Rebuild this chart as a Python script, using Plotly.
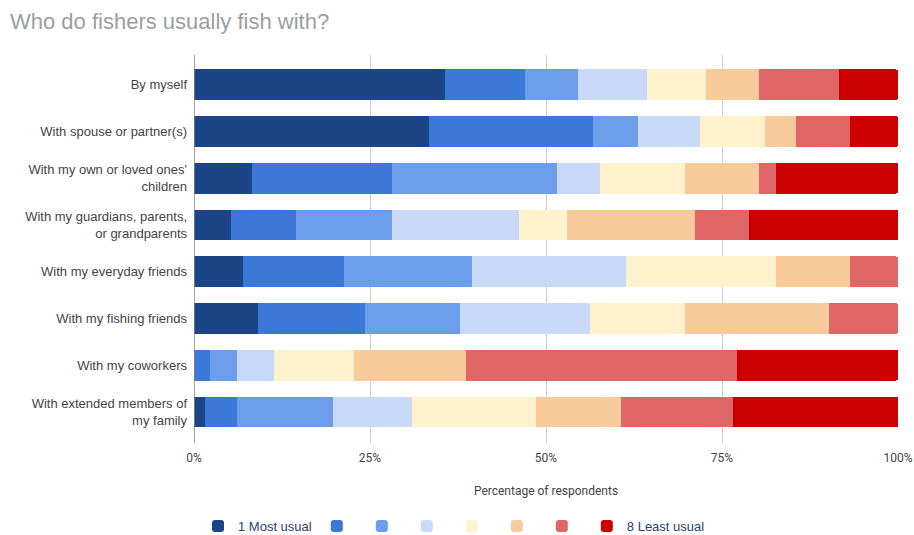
import plotly.graph_objects as go

categories = [
    "By myself",
    "With spouse or partner(s)",
    "With my own or loved ones'<br>children",
    "With my guardians, parents,<br>or grandparents",
    "With my everyday friends",
    "With my fishing friends",
    "With my coworkers",
    "With extended members of<br>my family",
]

series_names = ["1 Most usual", "", "", "", "", "", "", "8 Least usual"]

s1 = [35.7, 33.4, 8.3, 5.3, 6.9, 9.1, 0.0, 1.5]
s2 = [11.3, 23.3, 19.8, 9.2, 14.4, 15.2, 2.3, 4.6]
s3 = [7.6, 6.3, 23.4, 13.6, 18.2, 13.5, 3.8, 13.7]
s4 = [9.8, 8.9, 6.1, 18.1, 21.9, 18.4, 5.3, 11.2]
s5 = [8.3, 9.2, 12.2, 6.8, 21.2, 13.6, 11.3, 17.6]
s6 = [7.6, 4.4, 10.5, 18.2, 10.6, 20.4, 16.0, 12.0]
s7 = [11.3, 7.7, 2.3, 7.6, 6.8, 9.8, 38.5, 16.0]
s8 = [8.4, 6.8, 17.4, 21.2, 0.0, 0.0, 22.8, 23.4]
series_values = [s1, s2, s3, s4, s5, s6, s7, s8]

colors = ["#1c4587", "#3c78d8", "#6d9eeb", "#c9daf8",
          "#fff2cc", "#f9cb9c", "#e06666", "#cc0000"]

tick_vals = [0, 25, 50, 75, 100]
tick_text = ["0%", "25%", "50%", "75%", "100%"]

FONT = "Arial, 'Liberation Sans', sans-serif"

fig = go.Figure()
for i, (name, vals) in enumerate(zip(series_names, series_values)):
    fig.add_trace(go.Bar(
        y=list(range(len(categories))),
        x=vals,
        name=name,
        orientation="h",
        marker=dict(color=colors[i], line=dict(width=0)),
        hoverinfo="x+name",
    ))

fig.update_layout(
    barmode="stack",
    bargap=0.344,
    barcornerradius=2,
    width=914,
    height=535,
    autosize=False,
    margin=dict(l=194, r=16, t=55, b=92, autoexpand=False),
    paper_bgcolor="white",
    plot_bgcolor="white",
    font=dict(family=FONT, size=12, color="#444444"),
    title=dict(
        text="Who do fishers usually fish with?",
        x=10 / 914, xanchor="left",
        xref="container", yref="container",
        y=1 - 21 / 535, yanchor="middle",
        font=dict(family=FONT, size=22, color="#9aa0a0"),
    ),
    xaxis=dict(
        range=[0, 100],
        tickvals=tick_vals,
        ticktext=tick_text,
        showgrid=True,
        gridcolor="#cccccc",
        gridwidth=1,
        zeroline=False,
        showline=False,
        ticks="",
        automargin=False,
        ticklabelstandoff=6,
        tickfont=dict(family="Roboto, sans-serif", size=12, color="#444444"),
        title=dict(text="Percentage of respondents", standoff=22,
                   font=dict(family="Roboto, sans-serif", size=12, color="#444444")),
        fixedrange=True,
    ),
    yaxis=dict(
        tickvals=list(range(len(categories))),
        ticktext=categories,
        range=[7.663, -0.635],
        showgrid=False,
        zeroline=False,
        showline=False,
        ticks="",
        automargin=False,
        ticklabelstandoff=6,
        tickfont=dict(family=FONT, size=13, color="#444444"),
        fixedrange=True,
    ),
    legend=dict(
        orientation="h",
        xref="container", yref="container",
        x=454 / 914, xanchor="center",
        y=1 - 526 / 535, yanchor="middle",
        font=dict(family=FONT, size=13, color="#2a3f6f"),
        traceorder="normal",
        itemwidth=30,
    ),
    showlegend=True,
)

# darker left axis line at 0%
fig.add_shape(type="line", xref="x", yref="paper", x0=0, x1=0, y0=0, y1=1,
              line=dict(color="#888888", width=1.5))

fig.write_html("out.html")
